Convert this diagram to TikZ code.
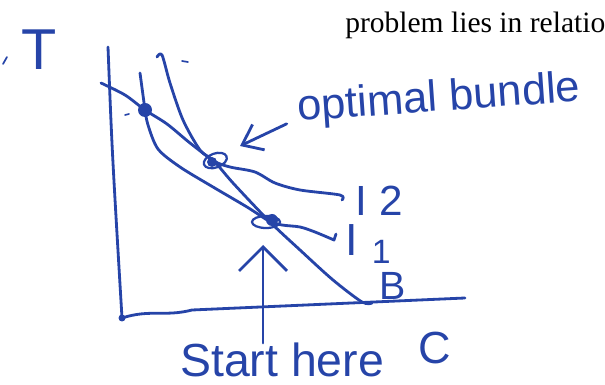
\documentclass[tikz,border=0pt]{standalone}
\usepackage{fontspec}
\setmainfont{Liberation Sans}
\newfontfamily\printfont{Liberation Serif}
\usetikzlibrary{arrows.meta}
\definecolor{ink}{RGB}{38,68,168}

\begin{document}
\begin{tikzpicture}[x=0.025cm,y=-0.025cm,
  ink line/.style={draw=ink,line width=2pt,line cap=round,line join=round},
  hand/.style={text=ink,inner sep=0pt},
  >={Straight Barb[length=13pt,width=20pt]}]
  \useasboundingbox (0,0) rectangle (605,385);

  \node[inner sep=0pt,anchor=base west] (txt) at (345,33) {\printfont\fontsize{21}{25}\selectfont problem lies in relatio};

  \node[hand,anchor=base,font=\fontsize{41}{46}\selectfont] (T) at (39,70) {T};
  \coordinate (o) at (122,318);
  \coordinate (ytop) at (108,47);
  \coordinate (xend) at (465,298);
  \draw[ink line] (ytop) .. controls (112,150) .. (o);
  \draw[ink line] (o) .. controls (150,309) and (165,317) .. (192,310) -- (xend);
  \fill[ink] (o) circle (3.5);
  \draw[ink line,line width=1.2pt] (3,64) -- (7,57);

  \coordinate (d1) at (145,110);
  \coordinate (opt) at (214,161);
  \coordinate (start) at (269,221);
  \coordinate (B) at (362,302);

  \draw[ink line] plot[smooth] coordinates {(157,57) (162,55) (170,83) (183,120) (200,150) (opt) (233,183) (start) (300,250) (333,280) (B) (372,303)};
  \draw[ink line] plot[smooth] coordinates {(101,83) (125,95) (d1) (167,124) (190,143) (opt) (230,167) (255,172) (275,183) (300,190) (340,195) (342,200)};
  \draw[ink line] plot[smooth] coordinates {(d1) (148,125) (158,149) (180,167) (213,187) (247,207) (start) (282,225) (300,227) (315,232) (334,240)} -- (336,234);
  \draw[ink line] (140,73) -- (d1);
  \draw[ink line,line width=1.2pt] (182,61) -- (188,62);
  \draw[ink line,line width=1.2pt] (125,115) -- (129,114);

  \fill[ink] (d1) circle (7);
  \draw[ink line,line width=1.6pt,rotate around={20:(opt)}] ([xshift=1pt]opt) ellipse (12 and 7);
  \fill[ink] ([shift={(-2,1)}]opt) circle (5);
  \draw[ink line,line width=1.6pt] ([shift={(-3,1)}]start) ellipse (14 and 6);
  \fill[ink] ([shift={(3,-1)}]start) circle (6);

  \node[hand,anchor=base west,rotate=4,font=\fontsize{31}{36}\selectfont] (optlbl) at (298,121) {optimal bundle};
  \coordinate (optTip) at (240,146);
  \draw[ink line,->] ([xshift=-8pt,yshift=-2pt]optlbl.base west) -- (optTip);

  \node[hand,anchor=base west,font=\fontsize{30}{34}\selectfont] (I2) at (355,216) {I\kern9pt 2};
  \node[hand,anchor=base west,font=\fontsize{32}{36}\selectfont] (I1) at (345,256) {I\kern10pt\raisebox{-5pt}{\fontsize{24}{28}\selectfont 1}};
  \node[hand,anchor=base,font=\fontsize{28}{32}\selectfont] (Blbl) at (393,300) {B};
  \node[hand,anchor=base,font=\fontsize{32}{36}\selectfont] (C) at (435,364) {C};

  \node[hand,anchor=base west,font=\fontsize{33}{38}\selectfont] (startlbl) at (180,377) {Start here};
  \coordinate (startTip) at (263,245);
  \draw[ink line,-{Straight Barb[length=17pt,width=34pt]}] (startTip |- startlbl.north) -- (startTip);
\end{tikzpicture}
\end{document}
